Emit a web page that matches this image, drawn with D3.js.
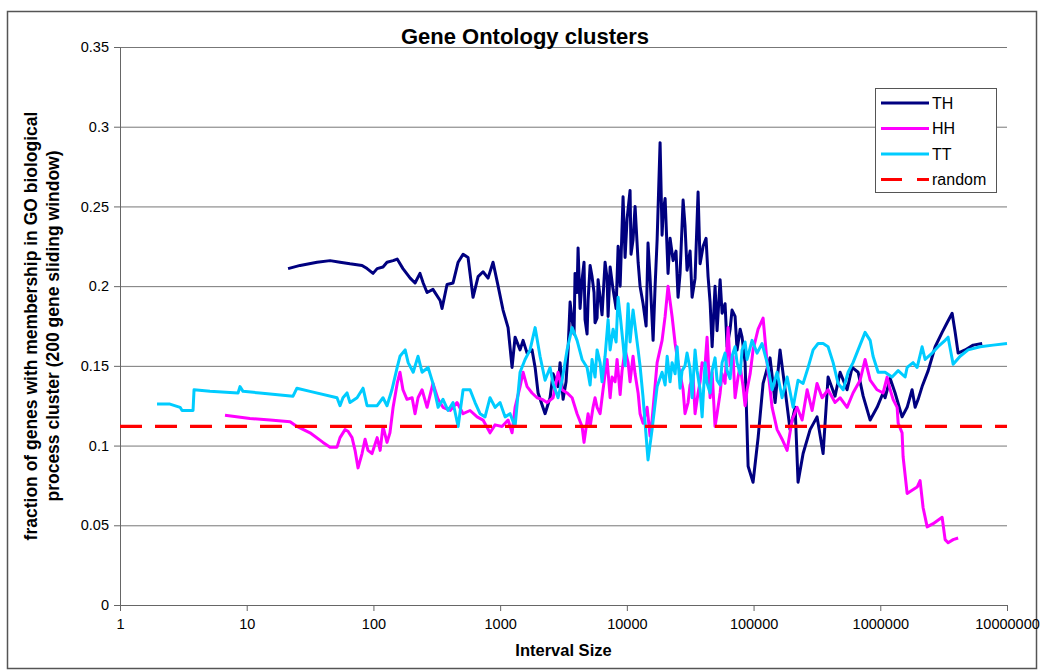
<!DOCTYPE html>
<html>
<head>
<meta charset="utf-8">
<script src="https://cdn.jsdelivr.net/npm/d3@7"></script>
<style>
  body { margin: 0; background: #fff; }
  text { font-family: 'Liberation Sans', Arial, sans-serif; }
</style>
</head>
<body>
<div id="chart"></div>
<script>
// values: [interval size, fraction]
const TH = [
  [21.2,0.211],[26.4,0.213],[35.9,0.215],[45.5,0.216],[54.5,0.215],[65.3,0.214],[81.3,0.213],[89.1,0.211],
  [99.3,0.208],[107,0.211],[119,0.212],[128,0.215],[143,0.216],[154,0.217],[171,0.211],[195,0.205],
  [213,0.202],[233,0.208],[247,0.202],[265,0.196],[295,0.198],[336,0.191],[348,0.186],[381,0.201],
  [425,0.202],[466,0.215],[510,0.220],[558,0.218],[611,0.193],[670,0.206],[733,0.209],[803,0.205],
  [879,0.215],[964,0.200],[1054,0.185],[1155,0.174],[1242,0.149],[1312,0.168],[1436,0.160],[1517,0.166],
  [1631,0.158],[1786,0.160],[1888,0.149],[1993,0.133],[2263,0.120],[2477,0.130],[2617,0.145],[2865,0.137],
  [2972,0.152],[3139,0.129],[3313,0.140],[3436,0.160],[3565,0.190],[3698,0.179],[3831,0.170],[3900,0.208],
  [4046,0.196],[4121,0.224],[4274,0.186],[4433,0.204],[4592,0.215],[4677,0.179],[4853,0.170],[4943,0.191],
  [5129,0.213],[5312,0.206],[5508,0.196],[5610,0.177],[5821,0.180],[5929,0.204],[6370,0.182],[6730,0.215],
  [6982,0.205],[7111,0.181],[7379,0.212],[7783,0.198],[8222,0.186],[8531,0.225],[8851,0.200],[9333,0.256],
  [9683,0.218],[10040,0.242],[10600,0.260],[10790,0.220],[11190,0.229],[11610,0.250],[12270,0.215],
  [12710,0.200],[13430,0.189],[14190,0.175],[14690,0.227],[15250,0.205],[16110,0.166],[16710,0.200],
  [17330,0.229],[18290,0.290],[18970,0.232],[19320,0.246],[20040,0.255],[21140,0.208],[21930,0.230],
  [23170,0.216],[24430,0.222],[25350,0.193],[26300,0.208],[27790,0.254],[28770,0.238],[29860,0.210],
  [31550,0.222],[32730,0.193],[34540,0.205],[36480,0.259],[37840,0.214],[39990,0.225],[42170,0.230],
  [43750,0.206],[45380,0.190],[47100,0.162],[49660,0.200],[51520,0.172],[54450,0.204],[56440,0.183],
  [59570,0.189],[61800,0.162],[65310,0.173],[67610,0.185],[71450,0.181],[74080,0.160],[78340,0.173],
  [81140,0.168],[85700,0.152],[90570,0.087],
  [99080,0.077],[108600,0.105],[118900,0.139],[134900,0.155],[147900,0.127],[161800,0.160],[177400,0.135],
  [194100,0.110],[212800,0.124],[224400,0.077],[246000,0.095],[279300,0.110],[317000,0.118],[353800,0.095],
  [387300,0.143],[439500,0.131],[481800,0.146],[547000,0.135],[599800,0.149],[668300,0.146],[732800,0.131],
  [831800,0.116],[944000,0.124],[1052000,0.133],[1091000,0.130],[1197000,0.142],[1309000,0.133],
  [1486000,0.118],[1629000,0.124],[1782000,0.135],[1884000,0.124],[1990000,0.129],[2138000,0.137],
  [2388000,0.147],[2710000,0.162],[3076000,0.171],[3367000,0.177],[3690000,0.183],[3899000,0.171],
  [4115000,0.158],[4673000,0.160],[5405000,0.163],[6368000,0.164]
];

const HH = [
  [6.74,0.119],[10.6,0.117],[15.3,0.116],[22.0,0.115],[24.9,0.112],[31.6,0.108],[40.0,0.102],[45.5,0.099],
  [51.6,0.099],[54.5,0.105],[59.7,0.110],[63.0,0.109],[67.8,0.105],[71.6,0.097],[75.6,0.086],[81.3,0.095],
  [85.9,0.104],[90.6,0.097],[97.5,0.095],[107,0.105],[113,0.097],[119,0.112],[128,0.102],[135,0.108],
  [143,0.124],[154,0.139],[162,0.146],[171,0.135],[184,0.129],[202,0.130],[213,0.120],[225,0.130],
  [242,0.135],[265,0.124],[295,0.139],[324,0.129],[354,0.124],[403,0.122],[457,0.127],[510,0.120],
  [579,0.122],[658,0.118],[733,0.116],[832,0.108],[912,0.113],[1035,0.112],[1155,0.116],[1242,0.108],
  [1312,0.124],[1436,0.137],[1517,0.146],[1631,0.137],[1786,0.133],[1955,0.130],[2143,0.129],[2345,0.127],
  [2617,0.130],[2865,0.146],[3083,0.135],[3375,0.133],[3698,0.130],[4046,0.120],[4433,0.112],[4592,0.102],
  [4943,0.120],[5129,0.112],[5410,0.124],[5610,0.130],[5821,0.124],[6150,0.120],[6370,0.130],[6730,0.145],
  [6982,0.154],[7379,0.130],[7640,0.143],[8072,0.140],[8373,0.154],[8851,0.132],[9164,0.147],
  [9683,0.160],[10230,0.152],[10600,0.140],[11190,0.156],[11610,0.145],[12270,0.133],[12710,0.120],
  [13430,0.114],[14450,0.124],[15250,0.106],[15810,0.116],
  [17330,0.152],[18970,0.166],[20040,0.181],[21140,0.200],[22750,0.181],[24040,0.164],[25350,0.152],
  [26300,0.145],[27790,0.135],[28770,0.120],[30410,0.127],[31550,0.138],[33340,0.143],[34540,0.120],
  [36480,0.133],[37840,0.140],[39260,0.152],[41400,0.150],[42960,0.168],[45380,0.130],[47100,0.146],
  [49660,0.112],[51520,0.120],[54450,0.133],[56440,0.145],[59570,0.139],[62950,0.174],[65310,0.150],
  [68860,0.156],[71450,0.130],[75450,0.143],[78340,0.150],[82650,0.137],[85700,0.125],
  [88870,0.135],[93970,0.145],[99080,0.160],[108600,0.173],[118900,0.180],[127900,0.152],[140000,0.124],[153400,0.110],
  [167900,0.104],[184000,0.097],[201400,0.116],[220600,0.124],[241600,0.116],[264800,0.135],[289700,0.122],
  [317000,0.139],[347500,0.130],[387300,0.135],[439500,0.127],[481800,0.130],[547000,0.124],[609500,0.133],
  [693400,0.141],[758600,0.154],[831800,0.141],[944000,0.135],[1052000,0.133],[1132000,0.143],
  [1197000,0.135],[1262000,0.129],[1358000,0.124],[1384000,0.114],[1486000,0.108],[1514000,0.093],
  [1629000,0.070],[1782000,0.072],[1954000,0.074],[2061000,0.078],[2178000,0.061],[2344000,0.049],
  [2612000,0.051],[3076000,0.055],[3249000,0.041],[3429000,0.039],[3758000,0.041],[4115000,0.042]
];

const TT = [
  [1.96,0.126],[2.48,0.126],[2.98,0.124],[3.09,0.122],[3.77,0.122],[3.84,0.135],[5.13,0.134],[8.54,0.133],
  [8.85,0.137],[9.35,0.134],[12.7,0.133],[23.2,0.131],[24.9,0.136],[31.6,0.134],[51.6,0.130],[54.5,0.125],
  [57.5,0.130],[61.9,0.133],[65.3,0.127],[74.3,0.130],[82.8,0.136],[89.1,0.125],[107,0.125],[119,0.130],
  [128,0.125],[140,0.135],[154,0.149],[162,0.156],[178,0.160],[188,0.152],[206,0.146],[225,0.156],
  [242,0.146],[270,0.149],[295,0.139],[324,0.124],[354,0.129],[388,0.122],[425,0.127],[466,0.112],
  [510,0.135],[579,0.135],[634,0.127],[694,0.120],[760,0.118],[832,0.130],[912,0.124],[998,0.127],
  [1094,0.118],[1197,0.120],[1312,0.112],[1436,0.146],[1573,0.154],[1722,0.160],[1888,0.174],[2065,0.156],
  [2263,0.141],[2477,0.149],[2617,0.139],[2865,0.130],[3083,0.141],[3375,0.160],[3698,0.174],[4046,0.166],
  [4433,0.154],[4853,0.149],[5129,0.138],[5312,0.154],[5610,0.143],[5821,0.160],[6150,0.152],[6370,0.140],
  [6730,0.156],[7111,0.179],[7379,0.160],[7783,0.173],[8222,0.165],
  [8531,0.193],[8851,0.182],[9333,0.164],[9683,0.150],[10230,0.189],[10600,0.165],[11190,0.185],
  [11610,0.175],[12270,0.160],[12710,0.150],[13430,0.130],[14690,0.091],
  [15810,0.110],[17330,0.137],[18970,0.146],[20040,0.138],[20800,0.156],[21930,0.140],[22750,0.152],
  [24040,0.145],[24910,0.162],[26300,0.136],[27300,0.147],[28770,0.150],
  [29860,0.158],[31550,0.148],[32730,0.130],[34540,0.160],[35820,0.147],[37840,0.135],[39260,0.118],
  [41400,0.152],[42960,0.139],[45380,0.133],[47100,0.147],[49660,0.155],[51520,0.141],[54450,0.138],
  [56440,0.152],[59570,0.158],[61800,0.147],[65310,0.142],[67610,0.156],[71450,0.162],[74080,0.152],
  [78340,0.145],[81140,0.160],[85700,0.165],[88870,0.154],[97280,0.166],
  [106600,0.158],[116700,0.164],[127900,0.152],[140000,0.135],[153400,0.146],[167900,0.130],[184000,0.143],
  [205100,0.124],[224400,0.141],[246000,0.139],[269400,0.149],[295100,0.160],[323000,0.164],[353800,0.164],
  [387300,0.162],[424500,0.152],[464500,0.139],[509300,0.135],[557200,0.146],[609500,0.152],[668300,0.160],
  [758600,0.171],[831800,0.166],[877000,0.156],[961600,0.146],[1091000,0.146],[1239000,0.143],
  [1384000,0.147],[1570000,0.143],[1629000,0.149],[1815000,0.152],[1954000,0.149],[2138000,0.162],
  [2259000,0.154],[2566000,0.158],[2858000,0.162],[3249000,0.166],[3429000,0.168],[3758000,0.151],
  [4266000,0.156],[4933000,0.160],[6138000,0.162],[7776000,0.163],[10000000,0.164]
];

const RANDOM_LEVEL = 0.112;

const xTicks = [1, 10, 100, 1000, 10000, 100000, 1000000, 10000000];
const xTickLabels = ['1', '10', '100', '1000', '10000', '100000', '1000000', '10000000'];
const yTicks = [0, 0.05, 0.1, 0.15, 0.2, 0.25, 0.3, 0.35];
const yTickLabels = ['0', '0.05', '0.1', '0.15', '0.2', '0.25', '0.3', '0.35'];

const seriesNames = ['TH', 'HH', 'TT', 'random'];
const seriesColors = ['#000080', '#ff00ff', '#00ccff', '#ff0000'];

const width = 1050;
const height = 672;
const plot = { left: 120, right: 1007, top: 47, bottom: 605 };

const svg = d3.select('#chart')
  .append('svg')
  .attr('width', width)
  .attr('height', height);

svg.append('rect')
  .attr('x', 7.5).attr('y', 11.5)
  .attr('width', 1029).attr('height', 657)
  .attr('fill', '#fff')
  .attr('stroke', '#555')
  .attr('stroke-width', 1.5);

const x = d3.scaleLog().domain([1, 1e7]).range([plot.left, plot.right]);
const y = d3.scaleLinear().domain([0, 0.35]).range([plot.bottom, plot.top]);

// gridlines
svg.append('g')
  .attr('transform', `translate(${plot.left},0)`)
  .call(d3.axisLeft(y).tickValues(yTicks.slice(1)).tickSize(-(plot.right - plot.left)).tickFormat(''))
  .call(g => g.select('.domain').remove())
  .call(g => g.selectAll('line').attr('stroke', '#777').attr('stroke-width', 1));

// y axis
const yAxis = svg.append('g')
  .attr('transform', `translate(${plot.left},0)`)
  .call(d3.axisLeft(y).tickValues(yTicks).tickSize(6).tickSizeOuter(0).tickPadding(5)
    .tickFormat((d, i) => yTickLabels[i]));
yAxis.selectAll('text').attr('font-size', 14.5).attr('fill', '#000')
  .attr('font-family', "'Liberation Sans', Arial, sans-serif");
yAxis.selectAll('line, path').attr('stroke', '#666');

// x axis
const xAxis = svg.append('g')
  .attr('transform', `translate(0,${plot.bottom})`)
  .call(d3.axisBottom(x).tickValues(xTicks).tickSize(6).tickSizeOuter(0).tickPadding(8)
    .tickFormat((d, i) => xTickLabels[i]));
xAxis.selectAll('text').attr('font-size', 14.5).attr('fill', '#000')
  .attr('font-family', "'Liberation Sans', Arial, sans-serif");
xAxis.selectAll('line, path').attr('stroke', '#666');

const line = d3.line()
  .x(d => x(d[0]))
  .y(d => y(d[1]));

[TH, HH, TT].forEach((data, i) => {
  const sorted = data.slice().sort((a, b) => a[0] - b[0]);
  svg.append('path')
    .datum(sorted)
    .attr('fill', 'none')
    .attr('stroke', seriesColors[i])
    .attr('stroke-width', 3)
    .attr('stroke-linejoin', 'round')
    .attr('d', line);
});

svg.append('line')
  .attr('x1', x(1)).attr('x2', x(1e7))
  .attr('y1', y(RANDOM_LEVEL)).attr('y2', y(RANDOM_LEVEL))
  .attr('stroke', seriesColors[3])
  .attr('stroke-width', 3.2)
  .attr('stroke-dasharray', '22,13');

// titles
svg.append('text')
  .attr('x', 525).attr('y', 44)
  .attr('text-anchor', 'middle')
  .attr('font-size', 22).attr('font-weight', 'bold')
  .text('Gene Ontology clusters');

svg.append('text')
  .attr('x', (plot.left + plot.right) / 2).attr('y', 656)
  .attr('text-anchor', 'middle')
  .attr('font-size', 16.5).attr('font-weight', 'bold')
  .text('Interval Size');

const yTitle = svg.append('text')
  .attr('transform', `translate(37,${(plot.top + plot.bottom) / 2}) rotate(-90)`)
  .attr('text-anchor', 'middle')
  .attr('font-size', 17.5).attr('font-weight', 'bold');
yTitle.append('tspan').attr('x', 0).attr('dy', 0)
  .text('fraction of genes with membership in GO biological');
yTitle.append('tspan').attr('x', 0).attr('dy', 22)
  .text('process cluster (200 gene sliding window)');

// legend
const legend = svg.append('g').attr('transform', 'translate(875,88)');
legend.append('rect')
  .attr('x', 0.5).attr('y', 0.5)
  .attr('width', 121).attr('height', 104)
  .attr('fill', '#fff')
  .attr('stroke', '#555');

seriesNames.forEach((name, i) => {
  const ly = 15 + i * 25.5;
  legend.append('line')
    .attr('x1', 6).attr('x2', 54)
    .attr('y1', ly).attr('y2', ly)
    .attr('stroke', seriesColors[i])
    .attr('stroke-width', 3)
    .attr('stroke-dasharray', name === 'random' ? '21,15' : null);
  legend.append('text')
    .attr('x', 57).attr('y', ly + 5.5)
    .attr('font-size', 16)
    .text(name);
});
</script>
</body>
</html>
